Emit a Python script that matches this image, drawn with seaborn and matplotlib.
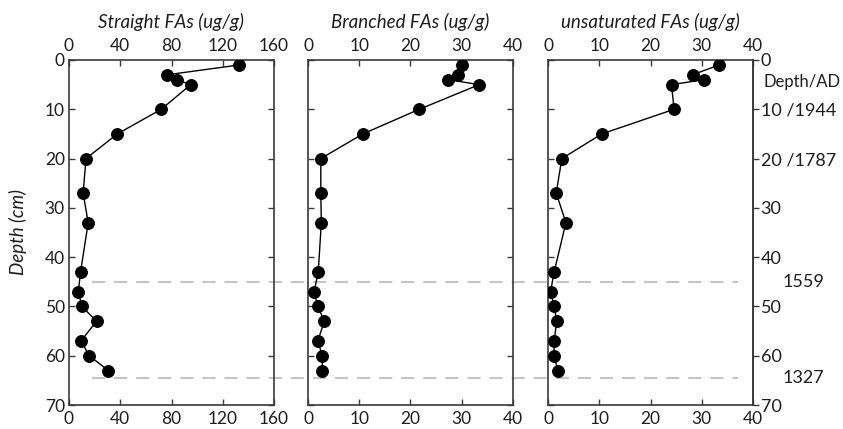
import numpy as np
import pandas as pd
import matplotlib
matplotlib.use("Agg")
import matplotlib.pyplot as plt
import matplotlib.transforms as mtrans
from matplotlib.lines import Line2D
import seaborn as sns

# ---------------- data ----------------
depth = [1, 3, 4, 5, 10, 15, 20, 27, 33, 43, 47, 50, 53, 57, 60, 63]
straight = [133, 76.5, 84.5, 95, 72, 37.7, 13.3, 11, 15, 9, 7.3, 10, 21.5, 9.4, 15.8, 30.6]
branched = [30.0, 29.2, 27.4, 33.4, 21.7, 10.7, 2.5, 2.5, 2.6, 2.0, 1.2, 1.9, 3.2, 1.9, 2.8, 2.8]
unsaturated = [33.4, 28.2, 30.4, 24.1, 24.6, 10.5, 2.7, 1.6, 3.5, 1.2, 0.5, 1.2, 1.7, 1.2, 1.2, 1.9]

titles = ["Straight FAs (ug/g)", "Branched FAs (ug/g)", "unsaturated FAs (ug/g)"]
xmaxes = [160, 40, 40]
xsteps = [40, 10, 10]
depth_ticks = [0, 10, 20, 30, 40, 50, 60, 70]
right_labels = ["0", "10 /1944", "20 /1787", "30", "40", "50", "60", "70"]
ref_depths = [45, 64.5]
ref_years = ["1559", "1327"]
depth_ad_label = "Depth/AD"
depth_ad_pos = 4.5

# ---------------- style ----------------
sns.set_style("ticks")
plt.rcParams["font.family"] = ["Lato", "DejaVu Sans"]
plt.rcParams["font.size"] = 12
frame_col = "#3a3a3a"
txt_col = "#1e1e1e"
tick_fs = 12.5
title_fs = 13.5
side_fs = 13

fig = plt.figure(figsize=(8.43, 4.29), dpi=100)
W, H = 843.0, 429.0
lefts = [69, 308, 548]
ax_w = 205
top_px, bot_px = 60, 405

axes = []
series = [straight, branched, unsaturated]
for i, (vals, title, xmax, xs) in enumerate(zip(series, titles, xmaxes, xsteps)):
    ax = fig.add_axes([lefts[i] / W, 1 - bot_px / H, ax_w / W, (bot_px - top_px) / H])
    ax.set_facecolor("none")
    df = pd.DataFrame({"value": vals, "depth": depth})
    sns.lineplot(data=df, x="value", y="depth", sort=False, estimator=None,
                 color="black", linewidth=1.0, marker="o", markersize=8.5,
                 markeredgecolor="black", markerfacecolor="black", ax=ax, zorder=3)
    ax.set_xlim(0, xmax)
    ax.set_ylim(70, 0)
    ax.set_xticks(np.arange(0, xmax + 1, xs))
    ax.set_yticks(depth_ticks)
    ax.set_xlabel("")
    ax.set_ylabel("")
    for sp in ax.spines.values():
        sp.set_visible(True)
        sp.set_color(frame_col)
        sp.set_linewidth(1.2)
    ax.tick_params(axis="x", top=True, bottom=True, labeltop=True, labelbottom=True,
                   direction="in", length=4, width=1.0, color=frame_col, pad=4,
                   labelsize=tick_fs, labelcolor=txt_col)
    if i == 0:
        ax.tick_params(axis="y", left=True, right=True, labelleft=True, labelright=False,
                       direction="in", length=4, width=1.0, color=frame_col, pad=3,
                       labelsize=tick_fs, labelcolor=txt_col)
    elif i == 1:
        ax.tick_params(axis="y", left=True, right=True, labelleft=False, labelright=False,
                       direction="in", length=4, width=1.0, color=frame_col)
    else:
        ax.tick_params(axis="y", left=True, right=False, labelleft=False, labelright=False,
                       direction="in", length=4, width=1.0, color=frame_col)
        sec = ax.secondary_yaxis("right")
        sec.set_yticks(depth_ticks, labels=right_labels)
        sec.tick_params(direction="out", length=4, width=1.0, color=frame_col, pad=1.5,
                        labelsize=side_fs, labelcolor=txt_col)
        sec.spines["right"].set_color(frame_col)
        sec.spines["right"].set_linewidth(1.2)
        tr = mtrans.blended_transform_factory(ax.transAxes, ax.transData)
        ax.text(1.049, depth_ad_pos, depth_ad_label, transform=tr, ha="left", va="center",
                fontsize=12, color=txt_col)
        for d, yr in zip(ref_depths, ref_years):
            ax.text(1.146, d, yr, transform=tr, ha="left", va="center",
                    fontsize=side_fs, color=txt_col)
    ax.text(0.5, 1.11, title, transform=ax.transAxes, ha="center", va="center",
            fontsize=title_fs, style="italic", color=txt_col)
    axes.append(ax)

# dashed reference lines spanning the panels
trf = mtrans.blended_transform_factory(fig.transFigure, axes[0].transData)
for d in ref_depths:
    ln = Line2D([92 / W, 738 / W], [d, d], transform=trf, color="#c4c4c4",
                linewidth=1.5, linestyle=(0, (6.3, 4.3)), zorder=-1)
    fig.add_artist(ln)

fig.text(18 / W, 1 - 232 / H, "Depth (cm)", rotation=90, ha="center", va="center",
         fontsize=title_fs, style="italic", color=txt_col)

fig.savefig("out.png", dpi=100)
